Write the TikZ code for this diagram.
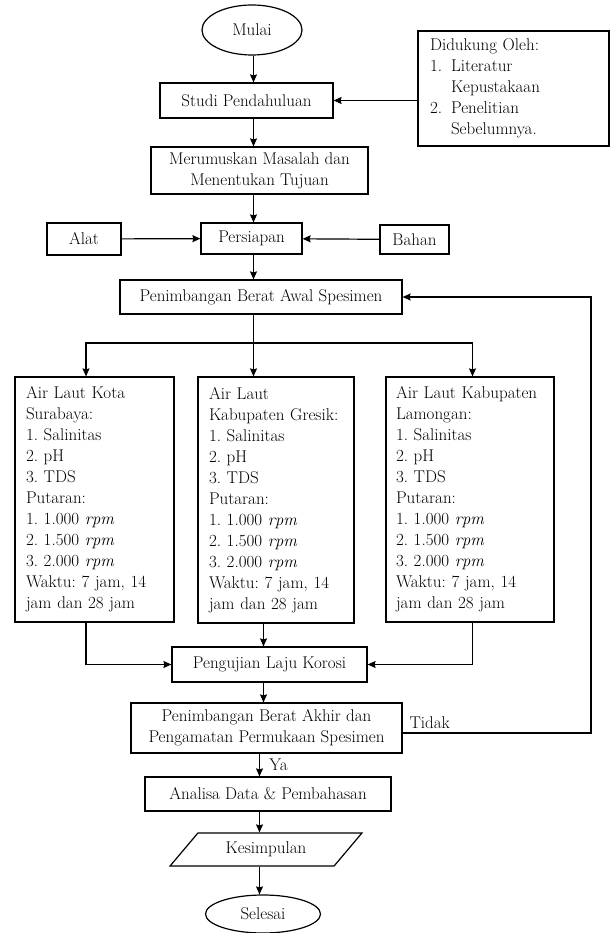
\documentclass[tikz,border=0pt]{standalone}
\usepackage{fontspec}
\usetikzlibrary{shapes.geometric, arrows.meta}
\frenchspacing
\begin{document}
\begin{tikzpicture}[>={Stealth[length=8pt, width=7pt, inset=1pt]}, x=1pt, y=-1pt, line width=1.2pt,
    every node/.style={font=\fontsize{17}{21}\selectfont},
    kotak/.style={draw, rectangle, align=center, inner sep=2pt},
    daftar/.style={draw, rectangle, align=left, inner xsep=11pt, inner ysep=4pt},
    bulat/.style={draw, ellipse, inner sep=0pt}]
\useasboundingbox[fill=white] (0,0) rectangle (610,933);

\coordinate (t1) at (253.5,0);
\coordinate (t2) at (263.5,0);
\coordinate (t3) at (259.5,0);
\coordinate (ka) at (86,0);
\coordinate (kb) at (472.5,0);
\coordinate (cabang) at (253.5,343);
\coordinate (balik) at (591,733);

\node[bulat, minimum width=100, minimum height=50] (mulai) at (252,30) {Mulai};
\node[kotak, minimum width=173, minimum height=35] (studi) at (246.5,100.5) {Studi Pendahuluan};
\node[daftar, inner xsep=12pt, text width=167, minimum height=115] (dukung) at (513.5,88.5)
    {Didukung Oleh:\\ \makebox[21pt][l]{1.}Literatur\\ \hspace*{21pt}Kepustakaan\\
     \makebox[21pt][l]{2.}Penelitian\\ \hspace*{21pt}Sebelumnya.};
\node[kotak, minimum width=217, minimum height=47] (rumus) at (259.5,170.5)
    {Merumuskan Masalah dan\\ Menentukan Tujuan};
\node[kotak, minimum width=101, minimum height=31] (siap) at (251.5,238.5) {Persiapan};
\node[kotak, minimum width=74, minimum height=32] (alat) at (84,239) {Alat};
\node[kotak, minimum width=69, minimum height=29] (bahan) at (414.5,239.5) {Bahan};
\node[kotak, minimum width=282, minimum height=34] (awal) at (261,297) {Penimbangan Berat Awal Spesimen};

\node[daftar, text width=137, minimum height=245] (kota) at (94.5,499.5)
    {Air Laut Kota\\ Surabaya:\\ 1. Salinitas\\ 2. pH\\ 3. TDS\\ Putaran:\\
     1. 1.000 \textit{rpm}\\ 2. 1.500 \textit{rpm}\\ 3. 2.000 \textit{rpm}\\
     Waktu: 7 jam, 14\\ jam dan 28 jam};
\node[daftar, text width=134, minimum height=246] (gresik) at (276,500)
    {Air Laut\\ Kabupaten Gresik:\\ 1. Salinitas\\ 2. pH\\ 3. TDS\\ Putaran:\\
     1. 1.000 \textit{rpm}\\ 2. 1.500 \textit{rpm}\\ 3. 2.000 \textit{rpm}\\
     Waktu: 7 jam, 14\\ jam dan 28 jam};
\node[daftar, inner xsep=10pt, text width=148, minimum height=245] (lamongan) at (470,499.5)
    {Air Laut Kabupaten\\ Lamongan:\\ 1. Salinitas\\ 2. pH\\ 3. TDS\\ Putaran:\\
     1. 1.000 \textit{rpm}\\ 2. 1.500 \textit{rpm}\\ 3. 2.000 \textit{rpm}\\
     Waktu: 7 jam, 14\\ jam dan 28 jam};

\node[kotak, minimum width=195, minimum height=35] (uji) at (269.5,664.5) {Pengujian Laju Korosi};
\node[kotak, minimum width=271, minimum height=50] (akhir) at (266.5,728)
    {Penimbangan Berat Akhir dan\\ Pengamatan Permukaan Spesimen};
\node[kotak, minimum width=246, minimum height=34] (analisa) at (268,794) {Analisa Data \& Pembahasan};
\node[draw, trapezium, trapezium left angle=42.5, trapezium right angle=137.5,
    trapezium stretches=true, minimum width=192, minimum height=33, inner sep=0pt]
    (simpul) at (266,849.5) {Kesimpulan};
\node[bulat, minimum width=115, minimum height=38] (selesai) at (263,914) {Selesai};

% alur utama
\draw[->] (mulai.south -| t1) -- (studi.north -| t1);
\draw[->] (studi.south -| t1) -- (rumus.north -| t1);
\draw[->] (rumus.south -| t1) -- (siap.north -| t1);
\draw[->] (siap.south -| t1) -- (awal.north -| t1);
\draw[->] (dukung.west |- studi) -- (studi.east);
\draw[->] (alat) -- (siap);
\draw[->] (bahan) -- (siap);

\draw[->] (awal.south -| t1) -- (gresik.north -| t1);
\draw[->] (cabang) -| (kota.north -| ka);
\draw[->] (cabang) -| (lamongan.north -| kb);
\draw[->] (kota.south -| ka) |- (uji.west);
\draw[->] (lamongan.south -| kb) |- (uji.east);
\draw[->] (gresik.south -| t2) -- (uji.north -| t2);
\draw[->] (uji.south -| t2) -- (akhir.north -| t2);

\draw[->] (akhir.south -| t3) -- node[right=6pt] (ya) {Ya} (analisa.north -| t3);
\draw[->] (analisa.south -| t3) -- (simpul.north -| t3);
\draw[->] (simpul.south -| t3) -- (selesai.north -| t3);
\draw[->] (akhir.east |- balik) -- node[above right, pos=0, xshift=3pt] (tidak) {Tidak} (balik) |- (awal.east);

\end{tikzpicture}
\end{document}
